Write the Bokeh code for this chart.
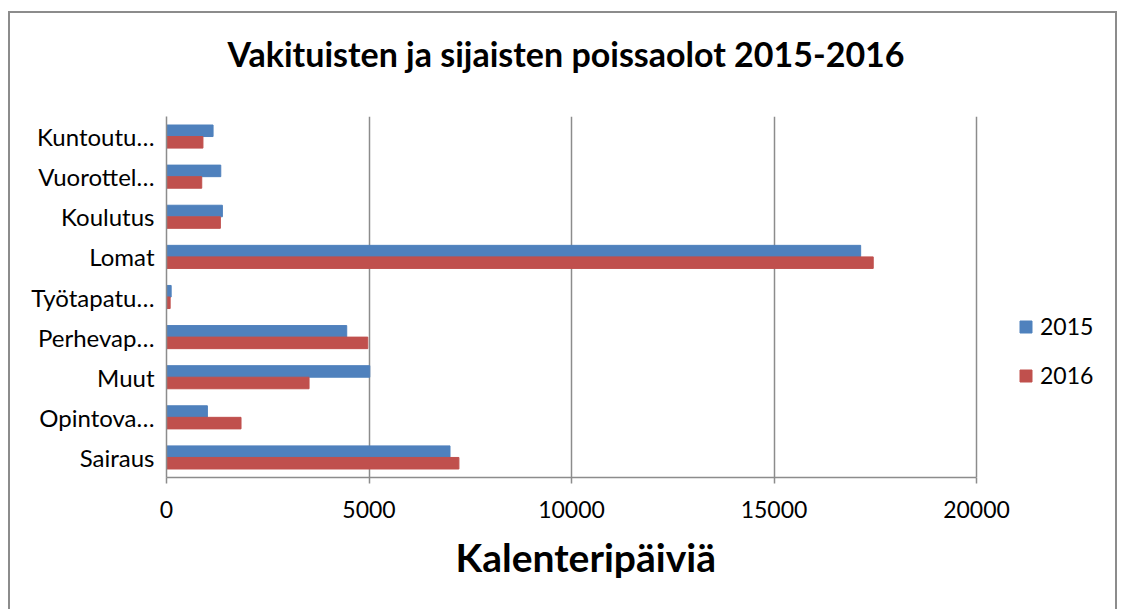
from bokeh.plotting import figure
from bokeh.models import (FactorRange, Range1d, FixedTicker, ColumnDataSource, Legend,
                          LegendItem, Title)
from bokeh.transform import dodge
from bokeh.embed import file_html
from bokeh.resources import INLINE

# categories listed bottom-to-top
categories = ["Sairaus", "Opintova…", "Muut", "Perhevap…", "Työtapatu…",
              "Lomat", "Koulutus", "Vuorottel…", "Kuntoutu…"]
values_2015 = [7000, 1010, 5020, 4450, 115, 17140, 1380, 1340, 1150]
values_2016 = [7220, 1840, 3520, 4970, 90, 17450, 1330, 870, 900]
series = ["2015", "2016"]
x_ticks = [0, 5000, 10000, 15000, 20000]
x_max = 20000
title_text = "Vakituisten ja sijaisten poissaolot 2015-2016"
x_label = "Kalenteripäiviä"

FONT = "Lato"
GRAY = "#8c8c8c"

# layout (pixels)
W, H = 1109, 598
ML, MT, MB = 156, 103, 134
AXIS_PX = 810                      # pixel length of the 0..20000 axis
frame_w = W - ML
x_end = x_max * frame_w / AXIS_PX  # frame extends right to hold the legend

src = ColumnDataSource(dict(cat=categories, v2015=values_2015, v2016=values_2016))

p = figure(y_range=FactorRange(factors=categories), x_range=Range1d(0, x_end),
           width=W, height=H, output_backend="svg", toolbar_location=None,
           min_border_left=ML, min_border_right=0, min_border_top=MT,
           min_border_bottom=MB, title=title_text)

r1 = p.hbar(y=dodge("cat", 0.144, range=p.y_range), left=0, right="v2015", height=0.2875,
            source=src, fill_color="#4F81BD", line_color="#4F81BD")
r2 = p.hbar(y=dodge("cat", -0.144, range=p.y_range), left=0, right="v2016", height=0.2875,
            source=src, fill_color="#C0504D", line_color="#C0504D")

p.styles = {"border-top": f"2px solid {GRAY}", "border-left": f"2px solid {GRAY}",
            "border-right": f"2px solid {GRAY}", "margin-top": "11px", "margin-left": "8px"}

p.title.text_font = FONT
p.title.text_font_size = "34px"
p.title.text_font_style = "bold"
p.title.align = "left"
p.title.offset = 61
p.title.vertical_align = "bottom"
p.title.standoff = 0
p.title.text_color = "black"
# lift the title away from the frame with bottom padding
try:
    p.title.padding = dict(left=0, right=0, top=0, bottom=43)
except Exception:
    try:
        p.title.padding = (0, 0, 43, 0)
    except Exception:
        p.title.standoff = 40

p.outline_line_color = None
p.background_fill_color = "white"
p.border_fill_color = "white"

xa = p.below[0]
xa.bounds = (0, x_max)
xa.ticker = FixedTicker(ticks=x_ticks)
xa.axis_line_color = GRAY
xa.axis_line_width = 1.5
xa.major_tick_line_color = GRAY
xa.major_tick_line_width = 1.5
xa.major_tick_out = 6
xa.major_tick_in = 0
xa.minor_tick_line_color = None
xa.major_label_text_font = FONT
xa.major_label_text_font_size = "23px"
xa.major_label_text_color = "black"
xa.major_label_standoff = 17

ya = p.left[0]
ya.axis_line_color = GRAY
ya.axis_line_width = 1.5
ya.major_tick_line_color = None
ya.minor_tick_line_color = None
ya.major_label_text_font = FONT
ya.major_label_text_font_size = "24px"
ya.major_label_text_color = "black"
ya.major_label_standoff = 6

p.xgrid.grid_line_color = GRAY
p.xgrid.grid_line_width = 1.5
p.ygrid.grid_line_color = None

xt = Title(text=x_label, text_font=FONT, text_font_size="39px", text_font_style="bold",
           text_color="black", align="left", offset=289, vertical_align="top", standoff=26)
p.add_layout(xt, "below")

lg = Legend(items=[LegendItem(label=series[0], renderers=[r1]),
                   LegendItem(label=series[1], renderers=[r2])])
lg.location = (852, 88)
lg.margin = 0
lg.padding = 0
lg.border_line_color = None
lg.background_fill_alpha = 0
lg.glyph_width = 15
lg.glyph_height = 15
lg.label_height = 24
lg.spacing = 21
lg.label_standoff = 7
lg.label_text_font = FONT
lg.label_text_font_size = "23px"
lg.label_text_color = "black"
p.add_layout(lg, "center")

open("out.html", "w").write(file_html(p, INLINE))
